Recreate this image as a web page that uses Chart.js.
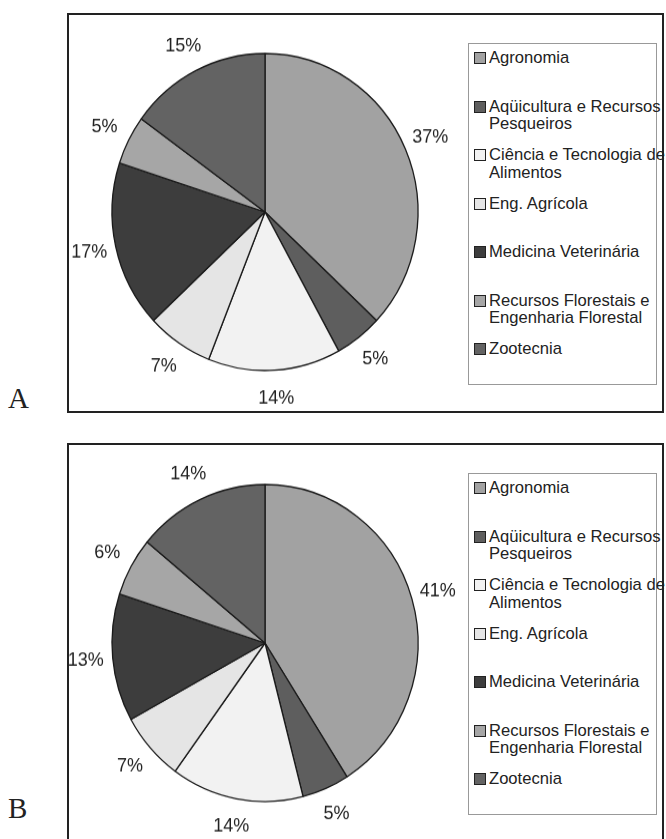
<!DOCTYPE html>
<html lang="pt">
<head>
  <meta charset="UTF-8" />
  <title>Distribuição por curso</title>
  <script src="https://cdn.jsdelivr.net/npm/chart.js"></script>
  <style>
    body {
      margin: 0;
      background: #fff;
      font-family: "Liberation Sans", Arial, sans-serif;
      color: #222;
    }
    .panel {
      position: absolute;
      left: 67px;
      width: 593px;
      height: 396px;
      border: 2px solid #222;
    }
    .letter {
      position: absolute;
      left: 8px;
      font-family: "Liberation Serif", serif;
      font-size: 29px;
      line-height: 1;
    }
    canvas {
      position: absolute;
      left: 65px;
      transform: scale(1, 1.036);
    }
    .legend {
      position: absolute;
      left: 468px;
      width: 187px;
      height: 335px;
      border: 1px solid #999;
      padding-top: 5px;
      box-sizing: content-box;
    }
    .legend .item {
      position: relative;
      height: 48.5px;
      padding-left: 20px;
      font-size: 16.6px;
      line-height: 17.5px;
      width: 180px;
    }
    .legend .box {
      position: absolute;
      left: 5px;
      top: 3px;
      width: 12px;
      height: 12px;
      box-sizing: border-box;
      border: 1px solid #222;
    }
  </style>
</head>
<body>

  <div class="panel" style="top:13px"></div>
  <div class="panel" style="top:443px"></div>
  <div class="letter" style="top:384px">A</div>
  <div class="letter" style="top:794px">B</div>

  <canvas id="pieA" width="400" height="400" style="top:12px"></canvas>
  <canvas id="pieB" width="400" height="400" style="top:443px"></canvas>

  <div class="legend" id="legendA" style="top:43px"></div>
  <div class="legend" id="legendB" style="top:473px"></div>

  <script>
    const categories = [
      'Agronomia',
      'Aqüicultura e Recursos Pesqueiros',
      'Ciência e Tecnologia de Alimentos',
      'Eng. Agrícola',
      'Medicina Veterinária',
      'Recursos Florestais e Engenharia Florestal',
      'Zootecnia'
    ];
    const sharesA = [37, 5, 14, 7, 17, 5, 15];
    const sharesB = [41, 5, 14, 7, 13, 6, 14];
    const sliceColors = ['#a2a2a2', '#5e5e5e', '#f2f2f2', '#e5e5e5', '#3d3d3d', '#a6a6a6', '#636363'];

    // rótulos de porcentagem fora da pizza
    const outsideLabels = {
      id: 'outsideLabels',
      afterDatasetsDraw(chart) {
        const ctx = chart.ctx;
        const meta = chart.getDatasetMeta(0);
        const values = chart.data.datasets[0].data;
        ctx.save();
        ctx.font = '18px "Liberation Sans", Arial, sans-serif';
        ctx.fillStyle = '#222';
        ctx.textAlign = 'center';
        ctx.textBaseline = 'middle';
        meta.data.forEach((arc, i) => {
          const p = arc.getProps(['x', 'y', 'startAngle', 'endAngle', 'outerRadius'], true);
          const mid = (p.startAngle + p.endAngle) / 2;
          const r = p.outerRadius + 27;
          ctx.fillText(values[i] + '%', p.x + Math.cos(mid) * r, p.y + Math.sin(mid) * r);
        });
        ctx.restore();
      }
    };

    function makePie(canvasId, legendId, shares) {
      const ctx = document.getElementById(canvasId).getContext('2d');
      new Chart(ctx, {
        type: 'pie',
        data: {
          labels: categories,
          datasets: [{
            data: shares,
            backgroundColor: sliceColors,
            borderColor: '#1a1a1a',
            borderWidth: 1.3
          }]
        },
        options: {
          responsive: false,
          animation: false,
          events: [],
          radius: 153,
          plugins: {
            legend: { display: false },
            tooltip: { enabled: false }
          }
        },
        plugins: [outsideLabels]
      });

      const legend = document.getElementById(legendId);
      categories.forEach((name, i) => {
        const item = document.createElement('div');
        item.className = 'item';
        const box = document.createElement('span');
        box.className = 'box';
        box.style.background = sliceColors[i];
        item.appendChild(box);
        item.appendChild(document.createTextNode(name));
        legend.appendChild(item);
      });
    }

    makePie('pieA', 'legendA', sharesA);
    makePie('pieB', 'legendB', sharesB);
  </script>

</body>
</html>
